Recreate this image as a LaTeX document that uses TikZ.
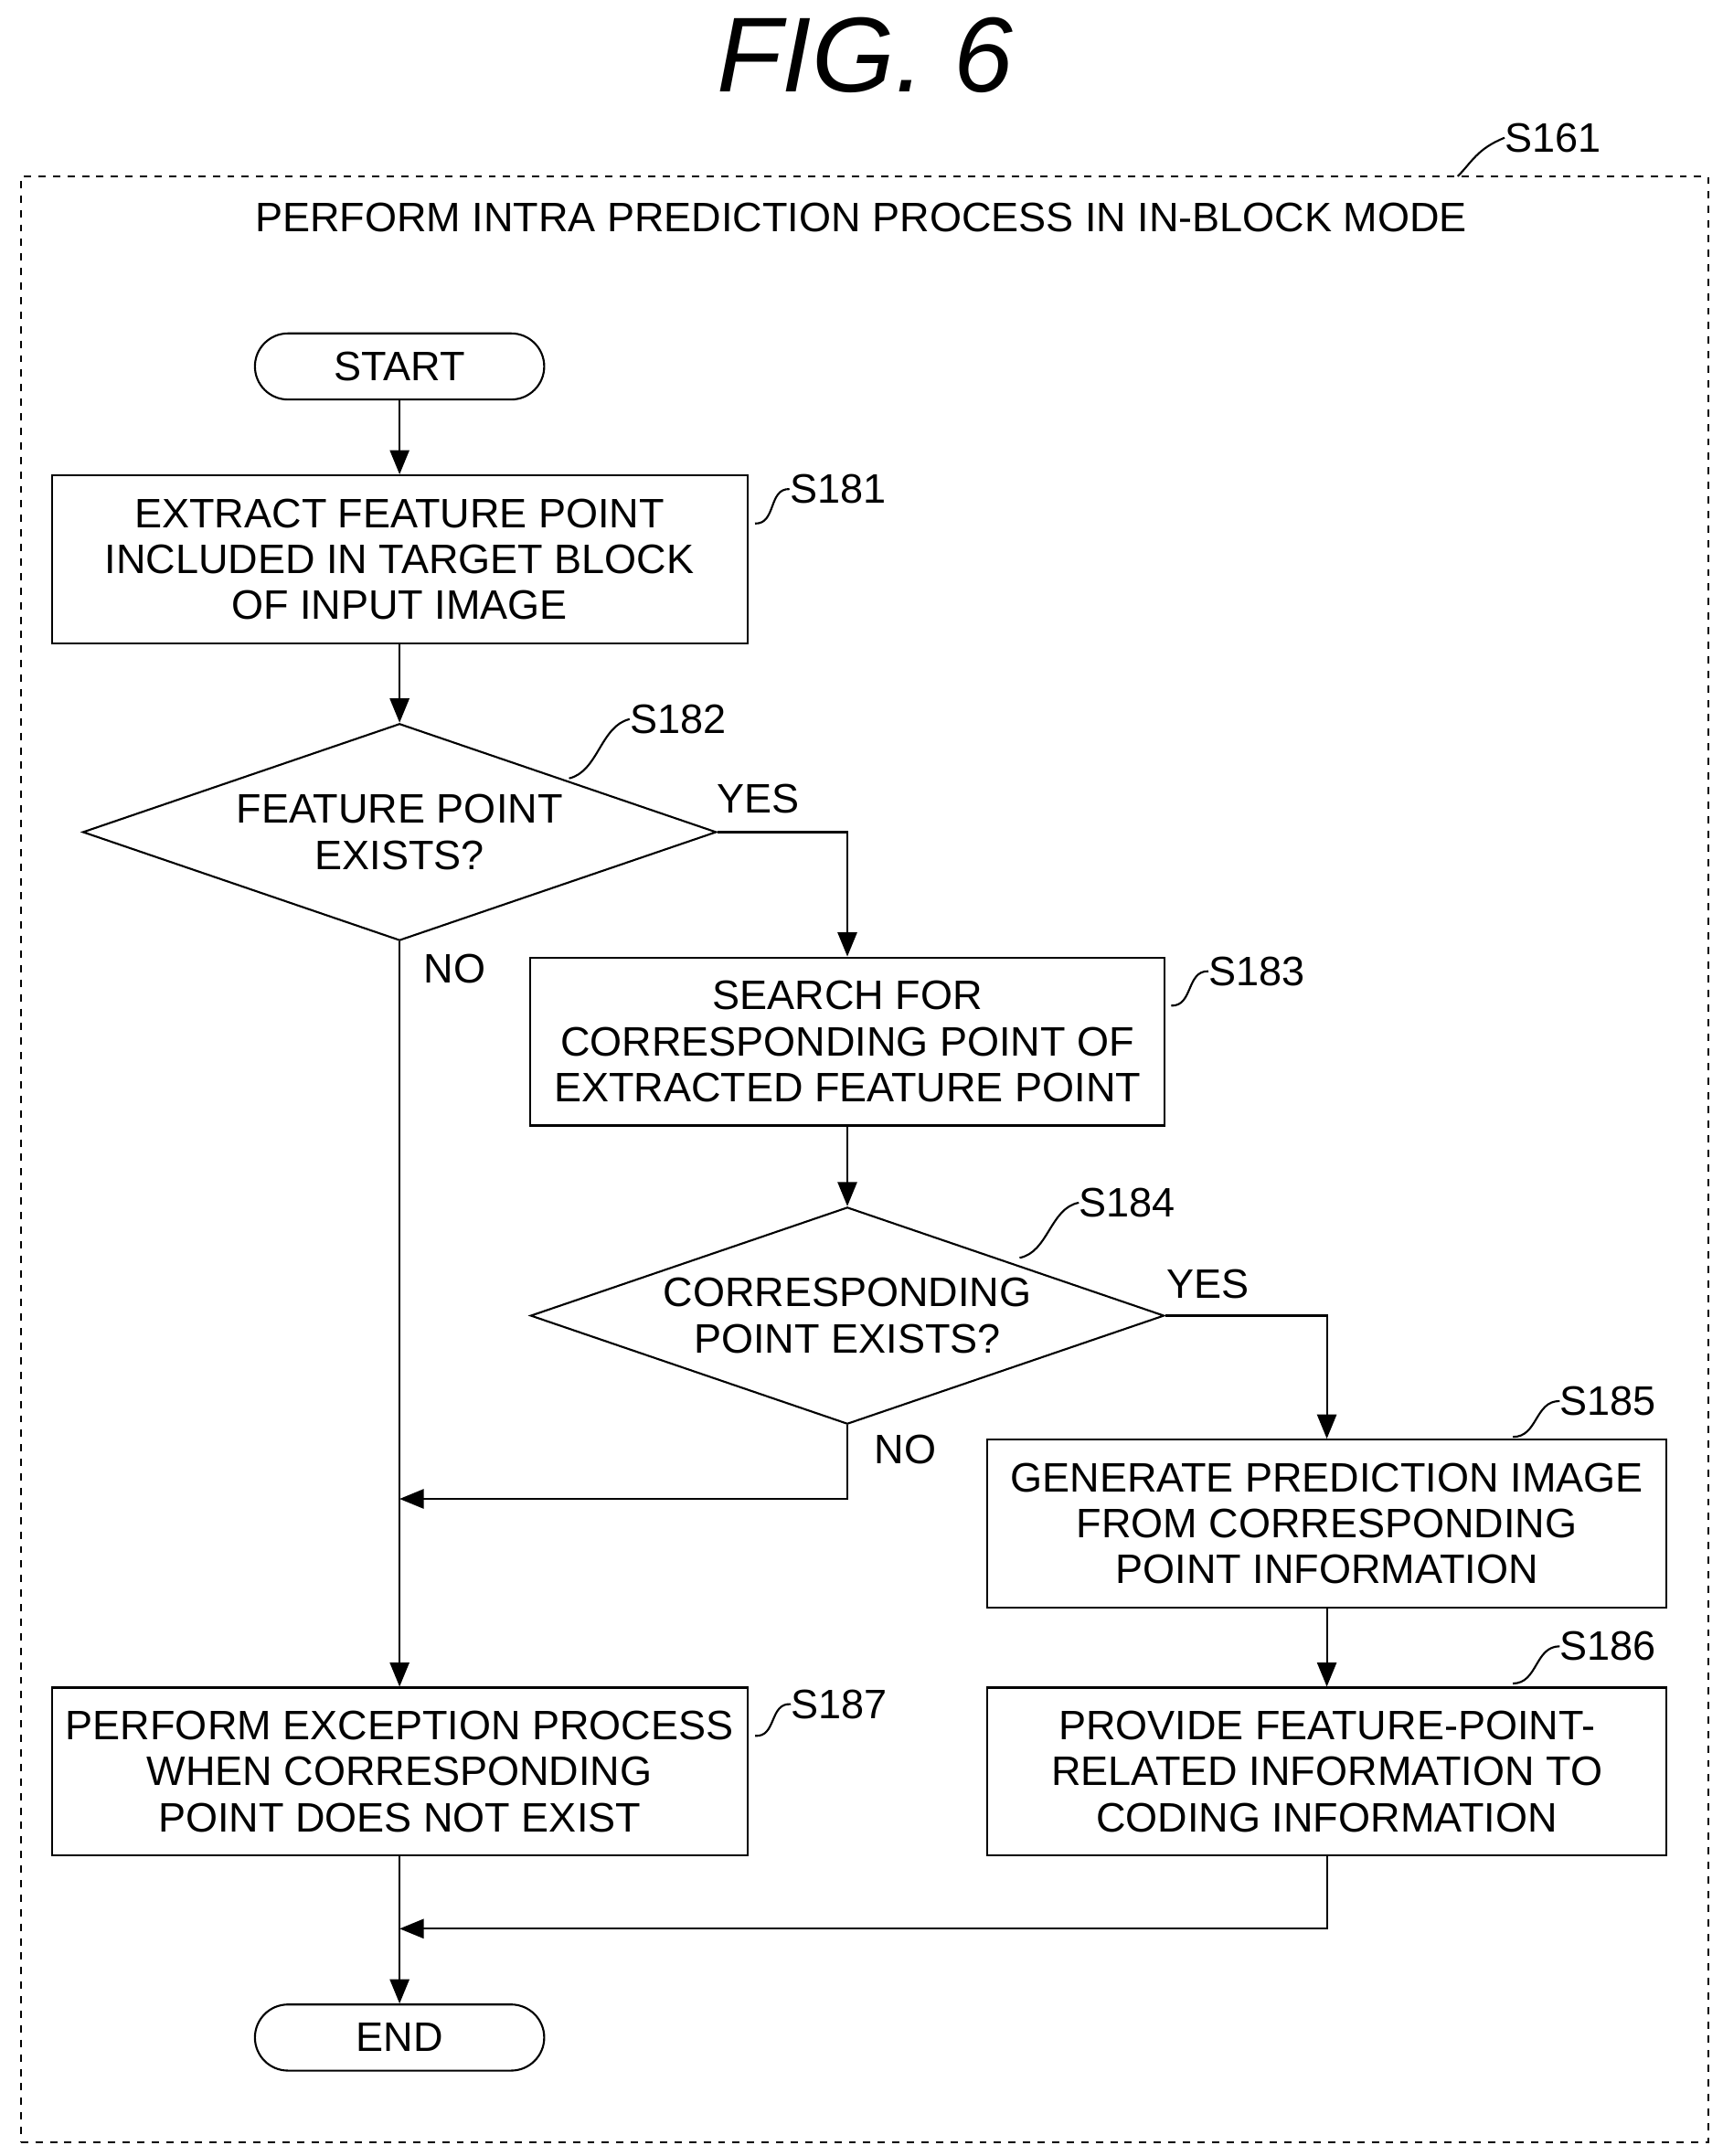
\documentclass[tikz,border=0pt]{standalone}
\usepackage{fontspec}
\setmainfont{Liberation Sans}
\usetikzlibrary{shapes.geometric,arrows.meta,calc}
\begin{document}
\begin{tikzpicture}[x=0.02cm,y=-0.02cm,
  every node/.style={font=\fontsize{17}{19}\selectfont, align=center, inner sep=0pt},
  box/.style={draw, thick, minimum width=10.1cm, minimum height=2.44cm},
  bbox/.style={draw, thick, minimum width=9.2cm, minimum height=2.44cm},
  term/.style={draw, thick, rounded corners=0.48cm, minimum width=4.2cm, minimum height=0.96cm},
  dia/.style={draw, thick, diamond, aspect=2.9, minimum width=9.2cm, minimum height=3.15cm},
  lab/.style={font=\fontsize{17}{19}\selectfont},
  line/.style={thick},
  arr/.style={thick,-{Triangle[length=10pt,width=8pt]}}]
\useasboundingbox (0,0) rectangle (1250,1565);
\node[font=\fontsize{44}{48}\selectfont\itshape] (title) at (628,40) {FIG. 6};
\node[draw, thick, dashed, minimum width=24.5cm, minimum height=28.54cm] (outer) at (627.5,841.5) {};
\node[lab,anchor=west] (s161) at (1092,100) {S161};
\draw[thick] (1058,128) .. controls (1068,118) and (1072,108) .. (s161.west);
\node (hdr) at (625,158) {PERFORM INTRA PREDICTION PROCESS IN IN-BLOCK MODE};

\node[term] (start) at (290,266) {START};
\node[box] (s181n) at (290,406) {EXTRACT FEATURE POINT\\INCLUDED IN TARGET BLOCK\\OF INPUT IMAGE};
\node[dia] (d182) at (290,604) {FEATURE POINT\\EXISTS?};
\node[bbox] (s183n) at (615,756) {SEARCH FOR\\CORRESPONDING POINT OF\\EXTRACTED FEATURE POINT};
\node[dia] (d184) at (615,955) {CORRESPONDING\\POINT EXISTS?};
\node[box,minimum width=9.86cm] (s185n) at (963,1106) {GENERATE PREDICTION IMAGE\\FROM CORRESPONDING\\POINT INFORMATION};
\node[box,minimum width=9.86cm] (s186n) at (963,1286) {PROVIDE FEATURE-POINT-\\RELATED INFORMATION TO\\CODING INFORMATION};
\node[box] (s187n) at (290,1286) {PERFORM EXCEPTION PROCESS\\WHEN CORRESPONDING\\POINT DOES NOT EXIST};
\node[term] (end) at (290,1479) {END};

\node[lab] (yes1) at (550,580) {YES};
\node[lab] (no1) at (330,703) {NO};
\node[lab] (yes2) at (877,932) {YES};
\node[lab] (no2) at (657,1052) {NO};

\node[lab,anchor=west] (l181) at (573,355) {S181};
\node[lab,anchor=west] (l182) at (457,522) {S182};
\node[lab,anchor=west] (l183) at (877,705) {S183};
\node[lab,anchor=west] (l184) at (783,873) {S184};
\node[lab,anchor=west] (l185) at (1132,1017) {S185};
\node[lab,anchor=west] (l186) at (1132,1195) {S186};
\node[lab,anchor=west] (l187) at (574,1237) {S187};
\coordinate (c181) at (548,380);
\coordinate (c182) at (413,565);
\coordinate (c183) at (850,730);
\coordinate (c184) at (740,913);
\coordinate (c185) at (1098,1043);
\coordinate (c186) at (1098,1222);
\coordinate (c187) at (548,1260);
\foreach \a/\b in {c181/l181,c182/l182,c183/l183,c184/l184,c185/l185,c186/l186,c187/l187}
  \draw[thick] (\a) .. controls ($(\a)!0.3!(\b.west)+(8,8)$) and ($(\a)!0.7!(\b.west)+(-8,-8)$) .. (\b.west);

\draw[arr] (start) -- (s181n);
\draw[arr] (s181n) -- (d182);
\coordinate (j1) at (615,604);
\draw[arr] (d182.east) -- (j1) -- (s183n.north);
\draw[arr] (s183n) -- (d184);
\coordinate (j2) at (963,955);
\draw[arr] (d184.east) -- (j2) -- (s185n.north);
\draw[arr] (s185n) -- (s186n);
\draw[arr] (d182.south) -- (s187n.north);
\coordinate (j3) at (615,1088);
\coordinate (j4) at (290,1088);
\draw[arr] (d184.south) -- (j3) -- (j4);
\draw[arr] (s187n) -- (end);
\coordinate (j5) at (963,1400);
\coordinate (j6) at (290,1400);
\draw[arr] (s186n.south) -- (j5) -- (j6);
\end{tikzpicture}
\end{document}
